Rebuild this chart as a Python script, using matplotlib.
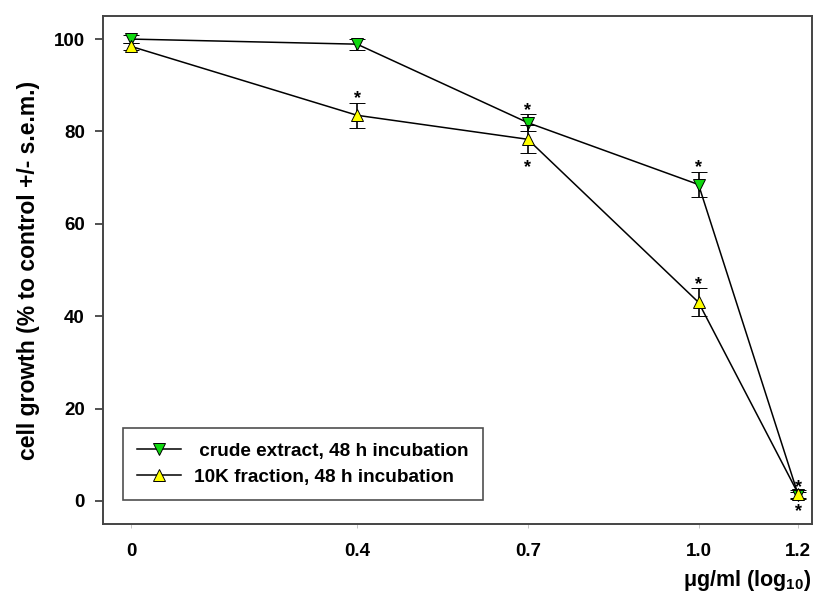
import matplotlib
matplotlib.use("Agg")
import matplotlib.pyplot as plt
from matplotlib.lines import Line2D

plt.rcParams['font.family'] = ['Liberation Sans', 'DejaVu Sans']
plt.rcParams['font.weight'] = 'bold'
plt.rcParams['mathtext.fontset'] = 'custom'
plt.rcParams['mathtext.bf'] = 'Liberation Sans:bold'
plt.rcParams['mathtext.rm'] = 'Liberation Sans:bold'

# dose (log10 ug/ml) and tick labels
dose = [0.0, 0.398, 0.699, 1.0, 1.176]
dose_labels = ['0', '0.4', '0.7', '1.0', '1.2']

# crude extract, 48 h
crude = [100.0, 98.9, 81.9, 68.5, 1.2]
crude_err = [0.8, 1.2, 1.9, 2.8, 0.8]
crude_star = [None, None, 'up', 'up', 'up']

# 10K fraction, 48 h
frac = [98.4, 83.5, 78.3, 43.0, 1.5]
frac_err = [0.8, 2.7, 3.0, 3.0, 0.8]
frac_star = [None, 'up', 'down', 'up', 'down']

green = '#10d810'
yellow = '#ffff00'

fig = plt.figure(figsize=(8.14, 5.99), dpi=100)
ax = fig.add_axes([0.1265, 0.1252, 0.8710, 0.8481])

ax.errorbar(dose, crude, yerr=crude_err, color='black', lw=1.1,
            marker='v', ms=9, mfc=green, mec='black', mew=0.7,
            capsize=5.5, capthick=1.2, elinewidth=1.2, zorder=3)
ax.errorbar(dose, frac, yerr=frac_err, color='black', lw=1.1,
            marker='^', ms=9, mfc=yellow, mec='black', mew=0.7,
            capsize=5.5, capthick=1.2, elinewidth=1.2, zorder=4)

# significance asterisks
for xs, ys, es, stars in [(dose, crude, crude_err, crude_star),
                          (dose, frac, frac_err, frac_star)]:
    for x, y, e, s in zip(xs, ys, es, stars):
        if s == 'up':
            ax.annotate('*', (x, y + e), xytext=(0, -0.5), textcoords='offset points',
                        ha='center', va='baseline', fontsize=13, fontweight='bold')
        elif s == 'down':
            ax.annotate('*', (x, y - e), xytext=(0, -13.5), textcoords='offset points',
                        ha='center', va='baseline', fontsize=13, fontweight='bold')

ax.set_xlim(-0.05, 1.2)
ax.set_ylim(-5, 105)
ax.set_xticks(dose)
ax.set_xticklabels(dose_labels)
ax.set_yticks([0, 20, 40, 60, 80, 100])

ax.tick_params(axis='y', direction='out', length=6, width=1.2, pad=7,
               labelsize=13.5, color='#333333')
ax.tick_params(axis='x', direction='out', length=3, width=0.6, pad=11,
               labelsize=13.5, color='#bbbbbb')
for lab in ax.get_xticklabels() + ax.get_yticklabels():
    lab.set_fontweight('bold')

for sp in ax.spines.values():
    sp.set_color('#444444')
    sp.set_linewidth(1.4)

ax.set_ylabel('cell growth (% to control +/- s.e.m.)', fontsize=16.5,
              fontweight='bold', labelpad=10)

fig.text(0.839, 0.031, 'μg/ml (log$_{\\mathbf{10}}$)', ha='left', va='center',
         fontsize=15.5, fontweight='bold')

handles = [Line2D([], [], color='black', lw=1.1, marker='v', ms=8,
                  mfc=green, mec='black', mew=0.7),
           Line2D([], [], color='black', lw=1.1, marker='^', ms=8,
                  mfc=yellow, mec='black', mew=0.7)]
labels = [' crude extract, 48 h incubation', '10K fraction, 48 h incubation']
leg = ax.legend(handles, labels, loc='lower left', bbox_to_anchor=(0.028, 0.047),
                fontsize=13.7, frameon=True, fancybox=False,
                handlelength=2.3, handletextpad=0.7, borderpad=0.75,
                labelspacing=0.45, borderaxespad=0)
leg.get_frame().set_edgecolor('#222222')
leg.get_frame().set_linewidth(1.2)
for t in leg.get_texts():
    t.set_fontweight('bold')

fig.savefig('out.png', dpi=100)
